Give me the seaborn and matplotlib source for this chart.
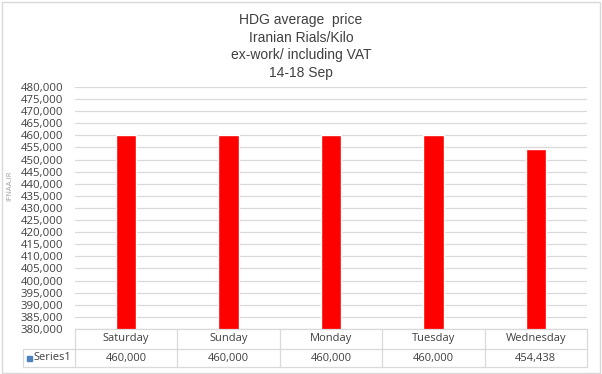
import matplotlib
matplotlib.use("Agg")
import matplotlib.pyplot as plt
from matplotlib.lines import Line2D
from matplotlib.patches import Rectangle
import numpy as np
import pandas as pd
import seaborn as sns

# chart data
days = ["Saturday", "Sunday", "Monday", "Tuesday", "Wednesday"]
prices = [460000, 460000, 460000, 460000, 454438]
series_name = "Series1"
title_lines = ["HDG average  price", "Iranian Rials/Kilo", "ex-work/ including VAT", "14-18 Sep"]

df = pd.DataFrame({"day": days, "price": prices})

W, H = 602, 374
sns.set_theme(style="white")
plt.rcParams["font.family"] = ["Open Sans", "DejaVu Sans"]

fig = plt.figure(figsize=(W / 100, H / 100), dpi=100)

# plot area in pixels
left, right, top, bottom = 75, 587, 87, 329
ax = fig.add_axes([left / W, 1 - bottom / H, (right - left) / W, (bottom - top) / H])

sns.barplot(data=df, x="day", y="price", color="#ff0000", width=0.2,
            saturation=1, ax=ax, zorder=3)
ax.set_ylim(380000, 480000)
ax.set_xlim(-0.5, len(days) - 0.5)
yt = np.arange(380000, 480001, 5000)
ax.set_yticks(yt)
ax.set_yticklabels([f"{v:,}" for v in yt], fontsize=8.2, color="#404040")
ax.tick_params(axis="y", length=0, pad=8.5)
ax.set_xticks([])
ax.set_xlabel("")
ax.set_ylabel("")
ax.grid(axis="y", color="#d9d9d9", linewidth=0.9, zorder=0)
for s in ax.spines.values():
    s.set_visible(False)


def fx(px):
    return px / W


def fy(py):
    return 1 - py / H


def hline(x0, x1, y):
    fig.add_artist(Line2D([fx(x0), fx(x1)], [fy(y), fy(y)], color="#d9d9d9", lw=0.9))


def vline(x, y0, y1):
    fig.add_artist(Line2D([fx(x), fx(x)], [fy(y0), fy(y1)], color="#d9d9d9", lw=0.9))


# data table under the axis
col_w = (right - left) / len(days)
r0, r1, r2 = 329, 349, 367
hline(left, right, r0)
hline(23, right, r1)
hline(23, right, r2)
vline(23, r1, r2)
for i in range(len(days) + 1):
    vline(left + i * col_w, r0, r2)
for i, (d, p) in enumerate(zip(days, prices)):
    cx = left + (i + 0.5) * col_w
    fig.text(fx(cx), fy((r0 + r1) / 2), d, ha="center", va="center", fontsize=8, color="#404040")
    fig.text(fx(cx), fy((r1 + r2) / 2), f"{p:,}", ha="center", va="center", fontsize=8, color="#404040")
fig.add_artist(Rectangle((fx(27), fy(361)), 5 / W, 5 / H, color="#4f81bd", transform=fig.transFigure))
fig.text(fx(33), fy((r1 + r2) / 2), series_name, ha="left", va="center", fontsize=8, color="#404040")

# title
for i, line in enumerate(title_lines):
    fig.text(0.5, fy(20 + i * 17.5), line, ha="center", va="center", fontsize=10,
             color="#404040", family=["Liberation Sans", "DejaVu Sans"])

# watermark
fig.text(fx(10), fy(186), "IFNAA.IR", rotation=90, ha="center", va="center", fontsize=5.5, color="#a0a0a0")

# outer border
fig.add_artist(Rectangle((fx(1.5), fy(372.5)), (W - 4) / W, 371 / H, fill=False,
                         edgecolor="#d9d9d9", lw=1, transform=fig.transFigure))

fig.savefig("out.png", dpi=100)
